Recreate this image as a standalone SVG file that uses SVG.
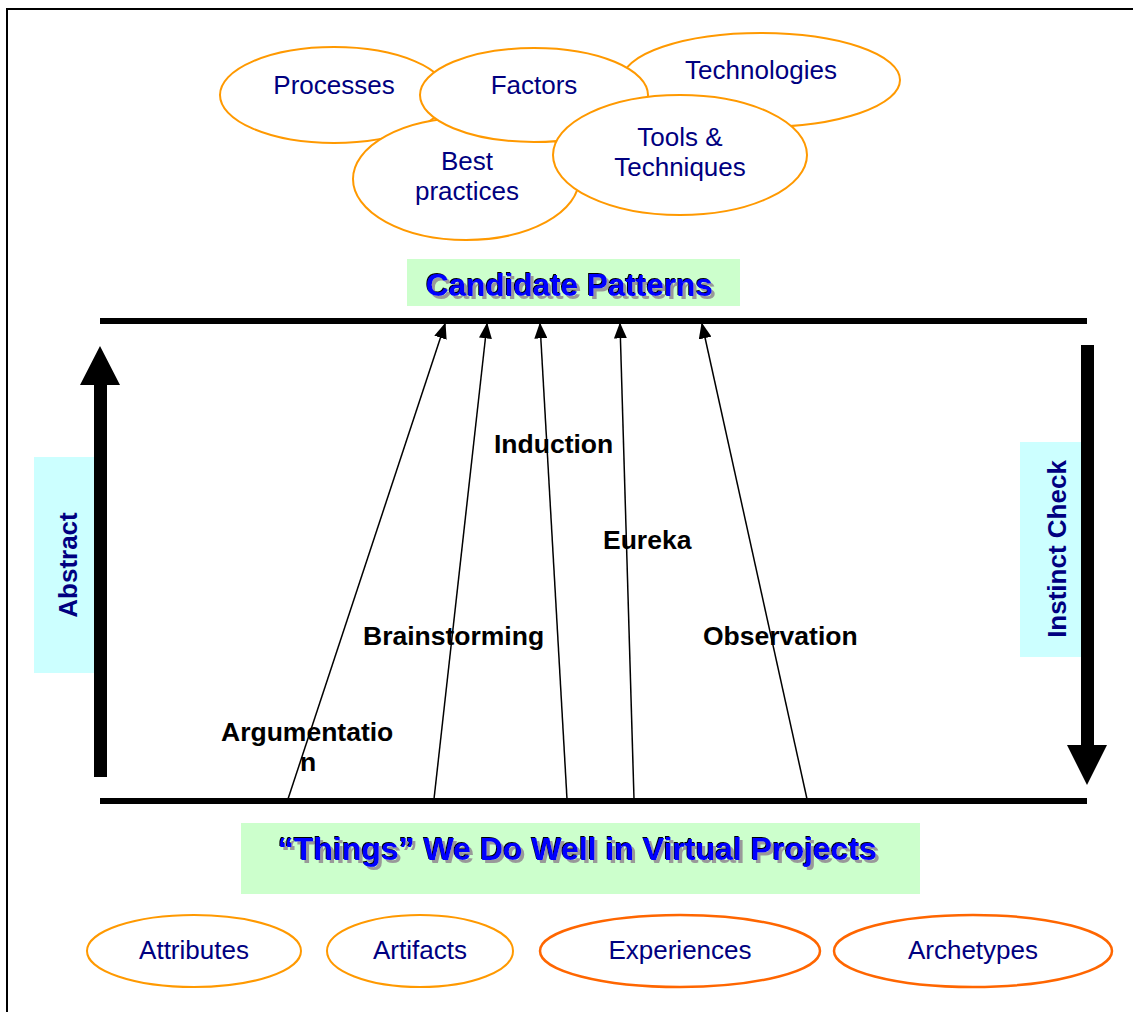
<svg xmlns="http://www.w3.org/2000/svg" width="1133" height="1012" viewBox="0 0 1133 1012">
<style>
.ell{fill:#fff;stroke:#ff9900;stroke-width:2}
.ell2{fill:#fff;stroke:#ff6600;stroke-width:2.5}
.lbl{font-family:"Liberation Sans",Arial,sans-serif;font-size:26px;fill:#000080;text-anchor:middle}
.blk{font-family:"Liberation Sans",Arial,sans-serif;font-size:26.5px;font-weight:bold;fill:#000}
.side{font-family:"Liberation Sans",Arial,sans-serif;font-size:26px;font-weight:bold;fill:#000080;text-anchor:middle}
.ttl{font-family:"Liberation Sans",Arial,sans-serif;font-weight:bold;text-anchor:middle;fill:#0000ff;filter:url(#sh)}
.bar{stroke:#000;stroke-width:6}
.conn{stroke:#000;stroke-width:1.5;fill:none}
</style>
<defs>
<marker id="ah" viewBox="0 0 10 10" refX="9" refY="5" markerWidth="16" markerHeight="13" markerUnits="userSpaceOnUse" orient="auto" preserveAspectRatio="none">
<path d="M0,0 L10,5 L0,10 z" fill="#000"/>
</marker>
<filter id="sh" x="-5%" y="-20%" width="110%" height="150%">
<feFlood flood-color="#999999"/><feComposite in2="SourceAlpha" operator="in"/><feOffset dx="3" dy="3" result="g"/>
<feFlood flood-color="#000000"/><feComposite in2="SourceAlpha" operator="in"/><feOffset dx="-1.5" dy="-1" result="b"/>
<feMerge><feMergeNode in="g"/><feMergeNode in="b"/><feMergeNode in="SourceGraphic"/></feMerge>
</filter>
</defs>
<rect x="7" y="9" width="1140" height="1020" fill="#fff" stroke="#000" stroke-width="2"/>

<g id="technologies"><ellipse class="ell" cx="761" cy="80" rx="139" ry="47"/><text class="lbl" x="761" y="79">Technologies</text></g>
<g id="processes"><ellipse class="ell" cx="334" cy="95" rx="114" ry="48"/><text class="lbl" x="334" y="94">Processes</text></g>
<g id="best-practices"><ellipse class="ell" cx="466" cy="179" rx="113" ry="61"/><text class="lbl" x="467" y="170">Best</text><text class="lbl" x="467" y="200">practices</text></g>
<g id="factors"><ellipse class="ell" cx="534" cy="95" rx="114" ry="47"/><text class="lbl" x="534" y="94">Factors</text></g>
<g id="tools"><ellipse class="ell" cx="680" cy="155" rx="127" ry="60"/><text class="lbl" x="680" y="146">Tools &amp;</text><text class="lbl" x="680" y="176">Techniques</text></g>

<g id="candidate-patterns">
<rect x="407" y="259" width="333" height="47" fill="#ccffcc"/>
<text class="ttl" x="569.5" y="296" font-size="31.5">Candidate Patterns</text>
</g>

<g id="things">
<rect x="241" y="823" width="679" height="71" fill="#ccffcc"/>
<text class="ttl" x="577.5" y="860" font-size="32">“Things” We Do Well in Virtual Projects</text>
</g>

<g id="abstract">
<rect x="34" y="457" width="60" height="216" fill="#ccffff"/>
<text class="side" transform="translate(77,565) rotate(-90)">Abstract</text>
<path d="M94,777 L94,385 L80,385 L100,346 L120,385 L107,385 L107,777 Z" fill="#000"/>
</g>

<g id="instinct-check">
<rect x="1020" y="442" width="61" height="215" fill="#ccffff"/>
<text class="side" transform="translate(1066,549) rotate(-90)">Instinct Check</text>
<path d="M1081,345 L1094,345 L1094,745 L1107,745 L1087,785 L1067,745 L1081,745 Z" fill="#000"/>
</g>

<g id="connectors">
<line class="bar" x1="100" y1="321" x2="1087" y2="321"/>
<line class="bar" x1="100" y1="801" x2="1087" y2="801"/>
<line class="conn" x1="288" y1="799" x2="445" y2="324" marker-end="url(#ah)"/>
<line class="conn" x1="434" y1="799" x2="487" y2="324" marker-end="url(#ah)"/>
<line class="conn" x1="567" y1="799" x2="540" y2="324" marker-end="url(#ah)"/>
<line class="conn" x1="634" y1="799" x2="620" y2="324" marker-end="url(#ah)"/>
<line class="conn" x1="807" y1="799" x2="702" y2="324" marker-end="url(#ah)"/>
</g>

<g id="labels">
<text class="blk" x="494" y="453">Induction</text>
<text class="blk" x="603" y="549">Eureka</text>
<text class="blk" x="363" y="645">Brainstorming</text>
<text class="blk" x="703" y="645">Observation</text>
<text class="blk" x="221" y="741">Argumentatio</text>
<text class="blk" x="300" y="771">n</text>
</g>

<g id="attributes"><ellipse class="ell" cx="194" cy="951" rx="107" ry="36"/><text class="lbl" x="194" y="959">Attributes</text></g>
<g id="artifacts"><ellipse class="ell" cx="420" cy="951" rx="93" ry="36"/><text class="lbl" x="420" y="959">Artifacts</text></g>
<g id="experiences"><ellipse class="ell2" cx="680" cy="951" rx="140" ry="36"/><text class="lbl" x="680" y="959">Experiences</text></g>
<g id="archetypes"><ellipse class="ell2" cx="973" cy="951" rx="139" ry="36"/><text class="lbl" x="973" y="959">Archetypes</text></g>
</svg>
